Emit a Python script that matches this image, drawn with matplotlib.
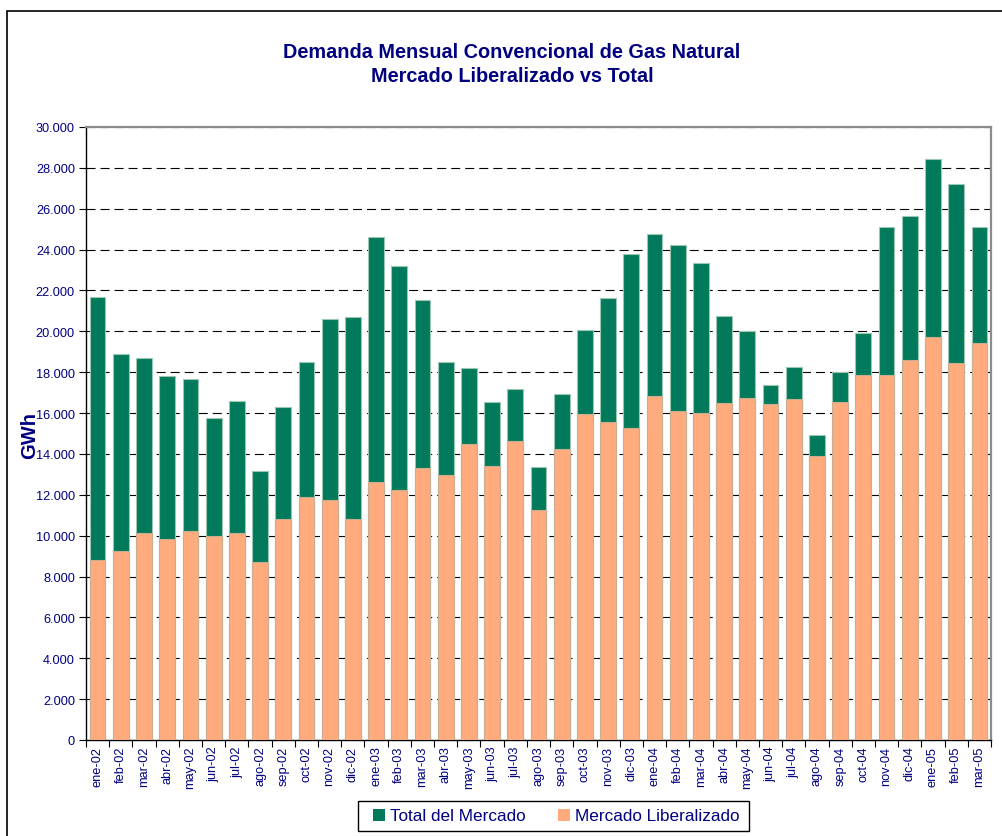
import matplotlib
matplotlib.use("Agg")
import matplotlib.pyplot as plt
from matplotlib.patches import Rectangle, Patch
from matplotlib.ticker import FuncFormatter, MultipleLocator
import numpy as np

plt.rcParams['font.family'] = ['Liberation Sans', 'DejaVu Sans']
plt.rcParams['lines.scale_dashes'] = False

months = ["ene-02", "feb-02", "mar-02", "abr-02", "may-02", "jun-02", "jul-02", "ago-02",
          "sep-02", "oct-02", "nov-02", "dic-02",
          "ene-03", "feb-03", "mar-03", "abr-03", "may-03", "jun-03", "jul-03", "ago-03",
          "sep-03", "oct-03", "nov-03", "dic-03",
          "ene-04", "feb-04", "mar-04", "abr-04", "may-04", "jun-04", "jul-04", "ago-04",
          "sep-04", "oct-04", "nov-04", "dic-04",
          "ene-05", "feb-05", "mar-05"]

total_mercado = [21700, 18890, 18680, 17815, 17670, 15740, 16590, 13150,
                 16280, 18480, 20600, 20690,
                 24600, 23180, 21520, 18515, 18205, 16525, 17180, 13360,
                 16915, 20050, 21630, 23770,
                 24750, 24240, 23360, 20735, 20016, 17360, 18270, 14930,
                 17995, 19900, 25120, 25660,
                 28450, 27210, 25090]

mercado_liberalizado = [8795, 9250, 10130, 9840, 10230, 9970, 10130, 8700,
                        10800, 11880, 11745, 10815,
                        12640, 12220, 13300, 12970, 14490, 13425, 14630, 11255,
                        14260, 15940, 15545, 15250,
                        16820, 16115, 15990, 16510, 16720, 16445, 16700, 13915,
                        16540, 17880, 17880, 18610,
                        19720, 18465, 19430]

GREEN = '#007A5A'
ORANGE = '#FFAB7E'
NAVY = '#000080'

W, H = 1003, 837
fig = plt.figure(figsize=(W / 100, H / 100), dpi=100)
fig.patch.set_facecolor('white')

# outer chart border (left/top visible, rest runs off the picture)
fig.patches.append(Rectangle((7 / W, -0.05), 1.2, 1 - 11.5 / H + 0.05, transform=fig.transFigure,
                             fill=False, edgecolor='black', linewidth=1.2, zorder=0))

ax = fig.add_axes([86 / W, 1 - 741 / H, (991 - 86) / W, (741 - 128) / H])
x = np.arange(len(months))
ax.bar(x, total_mercado, width=0.68, color=GREEN, edgecolor='#9CC7B3', linewidth=0.8,
       zorder=3, label='Total del Mercado')
ax.bar(x, mercado_liberalizado, width=0.68, color=ORANGE, edgecolor='#C9AE92', linewidth=0.8,
       zorder=4, label='Mercado Liberalizado')

ax.set_xlim(-0.5, len(months) - 0.5)
ax.set_ylim(0, 30000)
ax.yaxis.set_major_locator(MultipleLocator(2000))
ax.yaxis.set_major_formatter(FuncFormatter(lambda v, p: f"{int(v):,}".replace(",", ".")))
ax.grid(axis='y', color='black', linestyle=(0, (6.5, 3.6)), linewidth=0.8, zorder=1)
ax.set_axisbelow(True)

ax.set_xticks(x)
ax.set_xticklabels(months, rotation=90, fontsize=9.2, color=NAVY)
ax.tick_params(axis='x', which='major', length=0, pad=4)
ax.set_xticks(np.arange(-0.5, len(months) + 0.5, 1), minor=True)
ax.tick_params(axis='x', which='minor', length=5, width=0.8, direction='out', color='black')
ax.tick_params(axis='y', labelsize=9.2, labelcolor=NAVY, length=5, width=0.8, pad=3)

for s in ['left', 'bottom']:
    ax.spines[s].set_color('black')
    ax.spines[s].set_linewidth(1.0)
for s in ['top', 'right']:
    ax.spines[s].set_color('#8C8C8C')
    ax.spines[s].set_linewidth(1.6)

fig.text(512 / W, 1 - 52 / H, "Demanda Mensual Convencional de Gas Natural", ha='center', va='center',
         fontsize=14.3, fontweight='bold', color=NAVY)
fig.text(512 / W, 1 - 77 / H, "Mercado Liberalizado vs Total", ha='center', va='center',
         fontsize=14.3, fontweight='bold', color=NAVY)
fig.text(30 / W, 1 - 436 / H, "GWh", rotation=90, ha='center', va='center',
         fontsize=14.5, fontweight='bold', color=NAVY)

# legend frame drawn by hand for exact padding
fig.patches.append(Rectangle((358 / W, 1 - 832 / H), (749 - 358) / W, 30 / H, transform=fig.transFigure,
                             fill=True, facecolor='white', edgecolor='black', linewidth=1.0, zorder=5))
handles = [Patch(facecolor=GREEN, edgecolor='none'), Patch(facecolor=ORANGE, edgecolor='none')]
leg = fig.legend(handles, ['Total del Mercado', 'Mercado Liberalizado'], loc='center',
                 bbox_to_anchor=(556 / W, 1 - 817 / H), ncol=2, frameon=False,
                 fontsize=12.3, handlelength=0.7, handleheight=0.7, handletextpad=0.3,
                 columnspacing=1.9, borderpad=0.2, labelcolor=NAVY)
leg.set_zorder(6)

fig.savefig('out.png', dpi=100, facecolor='white')
